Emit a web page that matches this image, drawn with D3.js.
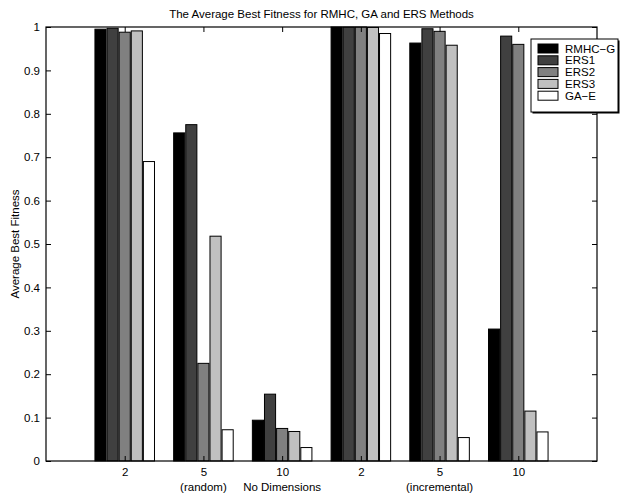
<!DOCTYPE html>
<html><head><meta charset="utf-8">
<script src="https://cdn.jsdelivr.net/npm/d3@7"></script>
<style>
body{margin:0;background:#fff;}
text{font-family:"Liberation Sans",Arial,Helvetica,sans-serif;}
</style></head>
<body><svg id="c" width="621" height="494"></svg>
<script>
const groups = ["2","5","10","2","5","10"];
const subLabels = ["","(random)","No Dimensions","","(incremental)",""];
const series = ["RMHC\u2212G","ERS1","ERS2","ERS3","GA\u2212E"];
const colors = ["#000000","#404040","#808080","#c0c0c0","#ffffff"];
const rmhcG = [0.995,0.756,0.094,1.000,0.963,0.304];
const ers1  = [0.997,0.775,0.154,1.000,0.996,0.979];
const ers2  = [0.988,0.225,0.075,1.000,0.990,0.960];
const ers3  = [0.991,0.518,0.068,0.999,0.958,0.115];
const gaE   = [0.690,0.072,0.031,0.985,0.054,0.067];
const values = [rmhcG, ers1, ers2, ers3, gaE];
const yTicks = [0,0.1,0.2,0.3,0.4,0.5,0.6,0.7,0.8,0.9,1];
const yTickLabels = ["0","0.1","0.2","0.3","0.4","0.5","0.6","0.7","0.8","0.9","1"];

const svg = d3.select("#c");
const L=46, R=597, T=27, B=461;
const x = d3.scaleLinear().domain([0,7]).range([L,R]);
const y = d3.scaleLinear().domain([0,1]).range([B,T]);

const n = series.length;
const gw = Math.min(0.8, n/(n+1.5));
const slot = gw/n;

// bars
values.forEach((vals,si)=>{
  svg.append("g").selectAll("rect").data(vals).enter().append("rect")
    .attr("x",(d,i)=>x(i+1-gw/2+si*slot)+0.5)
    .attr("width",x(slot)-x(0)-1)
    .attr("y",d=>y(d))
    .attr("height",d=>y(0)-y(d))
    .attr("fill",colors[si])
    .attr("stroke","#000").attr("stroke-width",1);
});

// frame
svg.append("rect").attr("x",L).attr("y",T).attr("width",R-L).attr("height",B-T)
  .attr("fill","none").attr("stroke","#000").attr("stroke-width",1.2);

// axes
const xt = d3.range(1,7);
const ax = svg.append("g").attr("transform",`translate(0,${B})`)
  .call(d3.axisBottom(x).tickValues(xt).tickFormat((d,i)=>groups[i]).tickSizeInner(-5).tickSizeOuter(0).tickPadding(7));
ax.select(".domain").remove();
ax.selectAll("text").attr("font-size",11.5).attr("fill","#000").attr("font-family","Liberation Sans, Arial, sans-serif");
const axT = svg.append("g").attr("transform",`translate(0,${T})`)
  .call(d3.axisTop(x).tickValues(xt).tickFormat("").tickSizeInner(-5).tickSizeOuter(0));
axT.select(".domain").remove();

svg.append("g").selectAll("text").data(subLabels).enter().append("text")
  .attr("x",(d,i)=>x(i+1)).attr("y",491).attr("text-anchor","middle")
  .attr("font-size",11.5).text(d=>d);

const ay = svg.append("g").attr("transform",`translate(${L},0)`)
  .call(d3.axisLeft(y).tickValues(yTicks).tickFormat((d,i)=>yTickLabels[i]).tickSizeInner(-5).tickSizeOuter(0).tickPadding(6));
ay.select(".domain").remove();
ay.selectAll("text").attr("font-size",11.5).attr("fill","#000").attr("font-family","Liberation Sans, Arial, sans-serif");
const ayR = svg.append("g").attr("transform",`translate(${R},0)`)
  .call(d3.axisRight(y).tickValues(yTicks).tickFormat("").tickSizeInner(-5).tickSizeOuter(0));
ayR.select(".domain").remove();

// title & y label
svg.append("text").attr("x",(L+R)/2).attr("y",18).attr("text-anchor","middle")
  .attr("font-size",11.5).text("The Average Best Fitness for RMHC, GA and ERS Methods");
svg.append("text").attr("transform",`translate(19,${(T+B)/2}) rotate(-90)`)
  .attr("text-anchor","middle").attr("font-size",11.5).text("Average Best Fitness");

// legend
const lg = svg.append("g");
lg.append("rect").attr("x",532.5).attr("y",40.5).attr("width",87).attr("height",73).attr("fill","#000");
lg.append("rect").attr("x",531).attr("y",39).attr("width",87).attr("height",73).attr("fill","#fff").attr("stroke","#000").attr("stroke-width",1);
series.forEach((s,i)=>{
  const cy = 48.5 + i*11.8;
  lg.append("rect").attr("x",538).attr("y",cy-4.5).attr("width",20).attr("height",9)
    .attr("fill",colors[i]).attr("stroke","#000").attr("stroke-width",1);
  lg.append("text").attr("x",565).attr("y",cy+4).attr("font-size",11.5).text(s);
});
</script></body></html>
